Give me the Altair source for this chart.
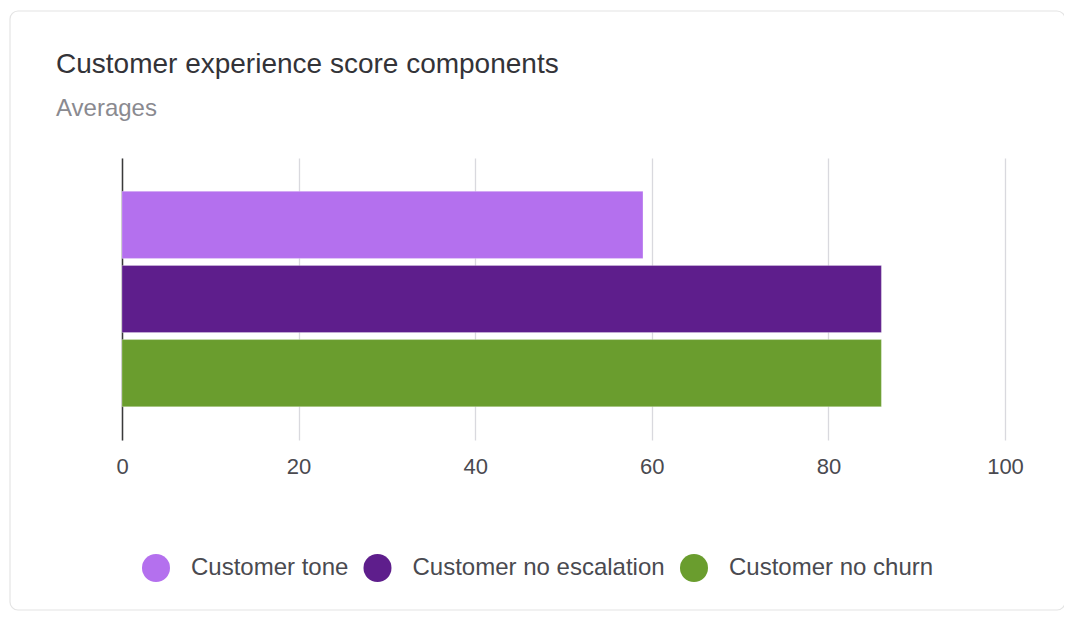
import altair as alt
import pandas as pd

components = ["Customer tone", "Customer no escalation", "Customer no churn"]
averages = [59, 86, 86]
colors = ["#b470ee", "#5e1e8c", "#6a9d2e"]
x_ticks = [0, 20, 40, 60, 80, 100]

df = pd.DataFrame({"component": components, "average": averages})

FONT = "Liberation Sans"

card = alt.Chart(alt.Data(values=[{"c": 1}])).mark_rect(
    fill="white", fillOpacity=0, stroke="#e4e4e4", strokeWidth=1.2, cornerRadius=8
).encode(
    x=alt.value(-112), x2=alt.value(943),
    y=alt.value(-147), y2=alt.value(452),
)

bars = alt.Chart(df).mark_bar(
    stroke="white", strokeOpacity=0.25, strokeWidth=1
).encode(
    x=alt.X(
        "average:Q",
        scale=alt.Scale(domain=[0, 100], nice=False),
        axis=alt.Axis(
            values=x_ticks, title=None, domain=False, ticks=False,
            labelFontSize=22, labelColor="#4a4a50", labelPadding=16,
            labelFlush=False, labelOverlap=False,
            labelFont=FONT, grid=True, gridColor="#d9d9de", gridWidth=1.3,
        ),
    ),
    y=alt.Y(
        "component:N",
        sort=components,
        scale=alt.Scale(paddingInner=0.095, paddingOuter=0.45),
        axis=alt.Axis(
            title=None, labels=False, ticks=False, domain=True,
            domainColor="#3a3a3a", domainWidth=1.5, grid=False,
        ),
    ),
    color=alt.Color(
        "component:N",
        scale=alt.Scale(domain=components, range=colors),
        legend=alt.Legend(
            orient="none", legendX=20, legendY=396, direction="horizontal",
            title=None, symbolType="circle", symbolSize=784,
            symbolStrokeWidth=0, symbolOpacity=1,
            labelFontSize=24, labelFont=FONT, labelColor="#4a4a50",
            labelOffset=21, columnPadding=14.5, labelLimit=500,
        ),
    ),
)

chart = alt.layer(card, bars).properties(
    width=883,
    height=282,
    padding={"left": 114, "top": 150, "right": 59, "bottom": 174},
    autosize=alt.AutoSizeParams(type="none"),
    background="white",
    title=alt.TitleParams(
        text="Customer experience score components",
        subtitle="Averages",
        anchor="start",
        frame="group",
        dx=-66,
        offset=-111,
        fontSize=28,
        font=FONT,
        fontWeight="normal",
        color="#333338",
        subtitleFontSize=24,
        subtitleFont=FONT,
        subtitleColor="#8a8a90",
        subtitlePadding=18,
    ),
).configure_view(stroke=None)

chart.save("out.html", embed_options={"renderer": "svg", "actions": False})
